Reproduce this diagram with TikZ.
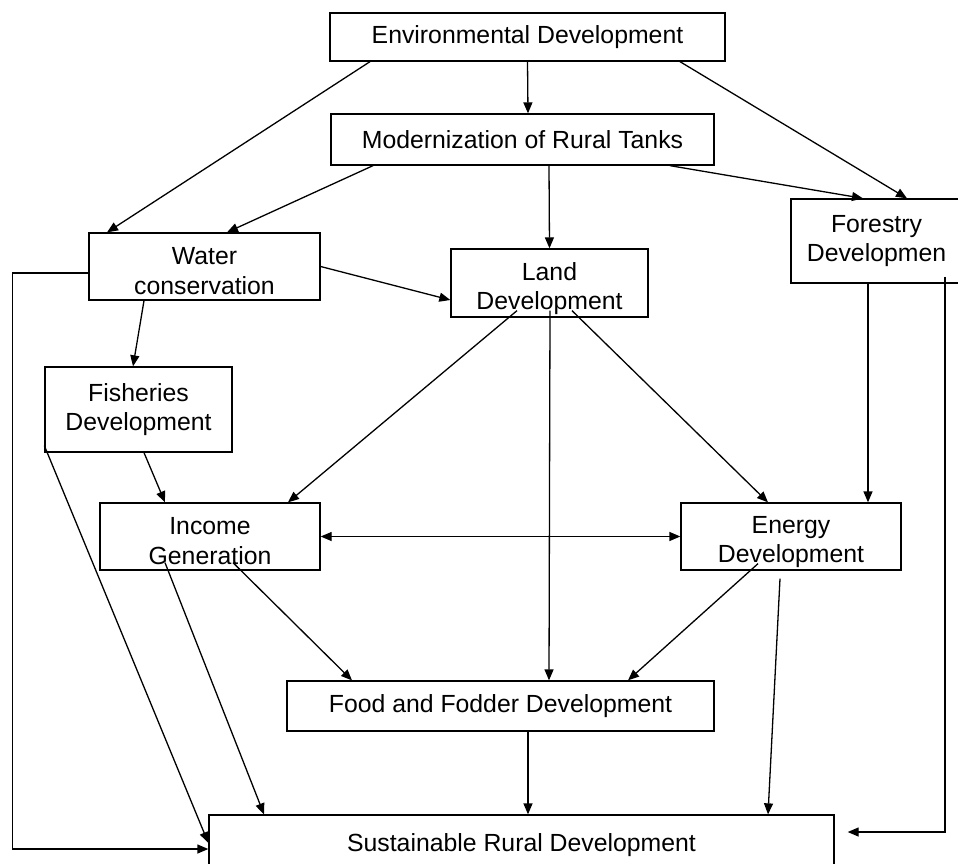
\documentclass[tikz,border=0pt]{standalone}
\usepackage{fontspec}
\setmainfont{Liberation Sans}
\usetikzlibrary{arrows.meta}
\newcommand\lowtext[1]{\rule{0pt}{#1}}
\begin{document}
\begin{tikzpicture}[x=1pt,y=-1pt,every node/.style={font=\fontsize{24.8}{29.5}\selectfont}]
    \tikzset{
      block/.style={draw,line width=1.3pt,align=center,inner sep=0pt},
      line/.style={line width=1.3pt},
      arrow/.style={-{Triangle[length=11pt,width=9pt]},line width=1.3pt}
    }
    \useasboundingbox (0,0) rectangle (958,863);

    \node[block,minimum width=395,minimum height=48] (env) at (527.5,37) {Environmental Development};
    \node[block,minimum width=383,minimum height=51] (tanks) at (522.5,139.5) {Modernization of Rural Tanks};
    \node[block,minimum width=231,minimum height=67] (water) at (204.5,266.5) {\lowtext{26pt}Water\\conservation};
    \node[block,minimum width=197,minimum height=68] (land) at (549.5,283) {\lowtext{29pt}Land\\Development};
    \node[block,minimum width=171,minimum height=84] (forest) at (876.5,241) {Forestry\\Developmen};
    \node[block,minimum width=187,minimum height=85] (fish) at (138.5,409.5) {Fisheries\\Development};
    \node[block,minimum width=220,minimum height=67] (income) at (210,536.5) {\lowtext{26pt}Income\\Generation};
    \node[block,minimum width=220,minimum height=67] (energy) at (791,536.5) {\lowtext{28pt}Energy\\Development};
    \node[block,minimum width=427,minimum height=50] (food) at (500.5,706) {Food and Fodder Development};
    \node[block,minimum width=625,minimum height=60] (rural) at (521.5,845) {Sustainable Rural Development};

    % from the top
    \draw[arrow] (env.south) -- ([xshift=5.5pt]tanks.north);
    \draw[arrow] ([xshift=-157.5pt]env.south) -- ([xshift=-97.5pt]water.north);
    \draw[arrow] ([xshift=152.5pt]env.south) -- ([xshift=30.5pt]forest.north);
    \draw[arrow] ([xshift=-149.5pt]tanks.south) -- ([xshift=22.5pt]water.north);
    \draw[arrow] ([xshift=26.5pt]tanks.south) -- (land.north);
    \draw[arrow] ([xshift=147.5pt]tanks.south) -- ([xshift=-13.5pt]forest.north);

    % water
    \draw[arrow] (water.east) -- ([yshift=-17pt]land.west);
    \draw[arrow] ([xshift=-60.5pt]water.south) -- ([xshift=-5.5pt]fish.north);
    \draw[arrow] ([yshift=-6.5pt]water.west) -- ++(-76,0) |- ([yshift=-4pt]rural.west);

    % land
    \draw[arrow] ([xshift=-32.5pt,yshift=7pt]land.south) -- ([xshift=78pt]income.north);
    \draw[arrow] ([xshift=0.5pt,yshift=7pt]land.south) -- ([xshift=48.5pt]food.north);
    \draw[arrow] ([xshift=22.5pt,yshift=7pt]land.south) -- ([xshift=-23pt]energy.north);

    % forestry
    \draw[arrow] ([xshift=-8.5pt]forest.south) -- ([xshift=77pt]energy.north);
    \draw[arrow] ([xshift=68.5pt,yshift=7pt]forest.south) |- ([xshift=13pt,yshift=13pt]rural.east);

    % fisheries
    \draw[arrow] ([xshift=5.5pt]fish.south) -- ([xshift=-45pt]income.north);
    \draw[arrow] ([yshift=7pt]fish.south west) -- ([yshift=2pt]rural.west);

    % income and energy
    \draw[arrow] ([xshift=-45pt,yshift=8pt]income.south) -- ([xshift=-257.5pt]rural.north);
    \draw[arrow] ([xshift=23pt,yshift=8pt]income.south) -- ([xshift=-148.5pt]food.north);
    \draw[{Triangle[length=11pt,width=9pt]}-{Triangle[length=11pt,width=9pt]},line] (income.east) -- (energy.west);
    \draw[arrow] ([xshift=-33pt,yshift=7pt]energy.south) -- ([xshift=127.5pt]food.north);
    \draw[arrow] ([xshift=-11pt,yshift=-8pt]energy.south) -- ([xshift=246.5pt]rural.north);

    \draw[arrow] ([xshift=27.5pt]food.south) -- ([xshift=6.5pt]rural.north);
  \end{tikzpicture}
\end{document}
